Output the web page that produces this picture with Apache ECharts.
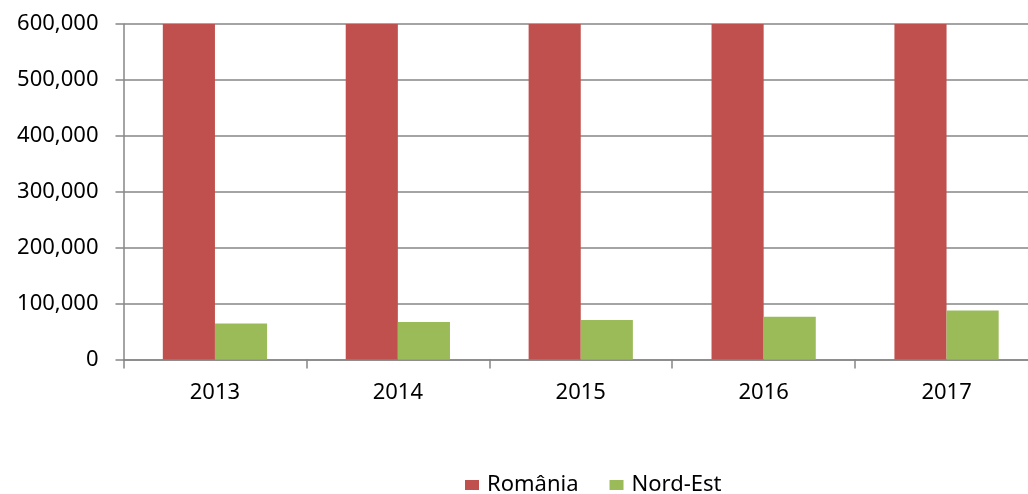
<!DOCTYPE html>
<html><head><meta charset="utf-8">
<script src="https://cdn.jsdelivr.net/npm/echarts@6/dist/echarts.min.js"></script>
<style>html,body{margin:0;padding:0;background:#fff;overflow:hidden}#c{width:1040px;height:494px}</style>
</head><body><div id="c"></div>
<script>
const categories = ['2013','2014','2015','2016','2017'];
const romania = [650000, 670000, 700000, 740000, 830000];
const nordEst = [64500, 67000, 70500, 76500, 87800];
const yTicks = [0, 100000, 200000, 300000, 400000, 500000, 600000];

const chart = echarts.init(document.getElementById('c'), null, {renderer:'canvas'});
const font = 'Noto Sans';
chart.setOption({
  animation:false,
  textStyle:{fontFamily:font},
  grid:{left:123.5, right:2, top:24, bottom:134.5, containLabel:false},
  legend:{
    data:['România','Nord-Est'], left:465, top:472, padding:0, itemWidth:14, itemHeight:10, itemGap:31,
    icon:'rect', textStyle:{fontFamily:font, fontSize:22, color:'#000', lineHeight:26, padding:[0,0,0,3]}
  },
  xAxis:{
    type:'category', data:categories,
    axisLine:{lineStyle:{color:'#868686', width:1.5}},
    axisTick:{show:true, length:9, alignWithLabel:false, lineStyle:{color:'#868686', width:1.5}},
    axisLabel:{fontFamily:font, fontSize:22, color:'#000', margin:22}
  },
  yAxis:{
    type:'value', min:yTicks[0], max:yTicks[yTicks.length-1], interval:100000,
    axisLine:{show:true, lineStyle:{color:'#868686', width:1.5}},
    axisTick:{show:true, length:8, lineStyle:{color:'#868686', width:1.5}},
    splitLine:{lineStyle:{color:'#868686', width:1.5}},
    axisLabel:{fontFamily:font, fontSize:22, color:'#000', margin:25,
      formatter:v=>v.toLocaleString('en-US')}
  },
  series:[
    {name:'România', type:'bar', data:romania, clip:true, barGap:'0%', barCategoryGap:'43%',
     itemStyle:{color:'#C0504D'}},
    {name:'Nord-Est', type:'bar', data:nordEst, clip:true,
     itemStyle:{color:'#9BBB59'}}
  ]
});
</script></body></html>
